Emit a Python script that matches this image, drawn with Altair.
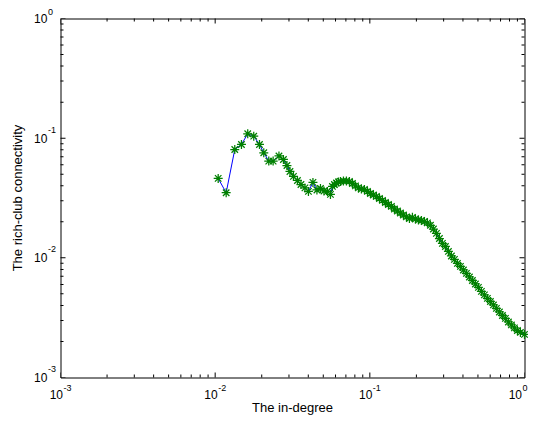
import altair as alt
import pandas as pd

# ---- data ----
in_degree = [0.01046, 0.01178, 0.01339, 0.01479, 0.01624, 0.01776, 0.01934, 0.02062, 0.02221, 0.02370,
             0.02585, 0.02763, 0.02911, 0.03045, 0.03207, 0.03404, 0.03587, 0.03806, 0.04009, 0.04287,
             0.04550, 0.04795, 0.05050, 0.05320, 0.05563,
             0.05731, 0.05905, 0.06083, 0.06266, 0.06457, 0.06750, 0.07058, 0.07380, 0.07717, 0.08068,
             0.08437, 0.08822, 0.09227, 0.09649, 0.1009, 0.1055, 0.1103, 0.1154, 0.1207, 0.1261,
             0.1319, 0.1379, 0.1442, 0.1508, 0.1577, 0.1649, 0.1724, 0.1803, 0.1885, 0.1971,
             0.2062, 0.2156, 0.2254, 0.2357, 0.2465, 0.2577, 0.2695, 0.2818, 0.2946,
             0.3081, 0.3222, 0.3369, 0.3523, 0.3684, 0.3852, 0.4027, 0.4211, 0.4403, 0.4604,
             0.4815, 0.5035, 0.5265, 0.5505, 0.5756, 0.6019, 0.6295, 0.6582, 0.6883, 0.7200,
             0.7526, 0.7870, 0.8228, 0.8604, 0.8997, 0.9408, 1.0]
rich_club = [0.0461, 0.0350, 0.0804, 0.0886, 0.1088, 0.1039, 0.0886, 0.0755, 0.0643, 0.0643,
             0.0710, 0.0664, 0.0591, 0.0527, 0.0479, 0.0443, 0.0410, 0.0384, 0.0359, 0.0427,
             0.0369, 0.0380, 0.0362, 0.0359, 0.0339,
             0.0395, 0.0410, 0.0422, 0.0431, 0.0435, 0.0439, 0.0439, 0.0435, 0.0418, 0.0399,
             0.0384, 0.0376, 0.0373, 0.0359, 0.0345, 0.0335, 0.0326, 0.0313, 0.0302, 0.0290,
             0.0279, 0.0269, 0.0256, 0.0246, 0.0237, 0.0228, 0.0220, 0.0213, 0.0218, 0.0211,
             0.0207, 0.0205, 0.0201, 0.0196, 0.0187, 0.0174, 0.0160, 0.0145, 0.0132,
             0.01245, 0.01131, 0.01037, 0.00970, 0.00898, 0.00848, 0.00792, 0.00741, 0.00692, 0.00647,
             0.00605, 0.00566, 0.00524, 0.00490, 0.00458, 0.00432, 0.00404, 0.00378, 0.00353, 0.00330,
             0.00312, 0.00291, 0.00275, 0.00260, 0.00247, 0.00238, 0.00229]

major_ticks = [0.001, 0.01, 0.1, 1.0]
tick_base = ["10", "10", "10", "10"]
tick_exp = ["-3", "-2", "-1", "0"]
minor_ticks = [m * 10.0 ** d for d in (-3, -2, -1) for m in range(2, 10)]

x_title = "The in-degree"
y_title = "The rich-club connectivity"

W, H = 464, 359
FONT = "Liberation Sans"

df = pd.DataFrame({"x": in_degree, "y": rich_club})
ticks = pd.DataFrame({"v": major_ticks + minor_ticks,
                      "major": [True] * len(major_ticks) + [False] * len(minor_ticks)})
labels = pd.DataFrame({"v": major_ticks, "b": tick_base, "e": tick_exp})
titles = pd.DataFrame({"xt": [x_title], "yt": [y_title]})

xs = alt.Scale(type="log", domain=[0.001, 1])
ys = alt.Scale(type="log", domain=[0.001, 1])

line = alt.Chart(df).mark_line(color="#0000ff", strokeWidth=1).encode(
    x=alt.X("x:Q", scale=xs, axis=None),
    y=alt.Y("y:Q", scale=ys, axis=None),
)

AST = "M0,-1L0,1M-1,0L1,0M-0.72,-0.72L0.72,0.72M-0.72,0.72L0.72,-0.72"
points = alt.Chart(df).mark_point(shape=AST, size=81, filled=False, color="#008000",
                                  strokeWidth=1.25, opacity=1).encode(
    x=alt.X("x:Q", scale=xs, axis=None), y=alt.Y("y:Q", scale=ys, axis=None))

tick_size = alt.condition("datum.major", alt.value(10), alt.value(6))


def xtick(ypos):
    return alt.Chart(ticks).mark_tick(orient="vertical", color="black", thickness=1,
                                      opacity=1, clip=True).encode(
        x=alt.X("v:Q", scale=xs, axis=None), y=alt.value(ypos), size=tick_size)


def ytick(xpos):
    return alt.Chart(ticks).mark_tick(orient="horizontal", color="black", thickness=1,
                                      opacity=1, clip=True).encode(
        y=alt.Y("v:Q", scale=ys, axis=None), x=alt.value(xpos), size=tick_size)


def xlabels(flt, shift):
    base = alt.Chart(labels).transform_filter(flt)
    b = base.mark_text(align="right", baseline="alphabetic", dx=2.5 + shift,
                       font=FONT, fontSize=12, color="black").encode(
        x=alt.X("v:Q", scale=xs, axis=None), y=alt.value(H + 21.5), text="b:N")
    e = base.mark_text(align="left", baseline="alphabetic", dx=3 + shift,
                       font=FONT, fontSize=9, color="black").encode(
        x=alt.X("v:Q", scale=xs, axis=None), y=alt.value(H + 13), text="e:N")
    return [b, e]


def ylabels(flt, exp_dy):
    base = alt.Chart(labels).transform_filter(flt)
    b = base.mark_text(align="left", baseline="alphabetic", dy=4.5,
                       font=FONT, fontSize=12, color="black").encode(
        y=alt.Y("v:Q", scale=ys, axis=None), x=alt.value(-26.5), text="b:N")
    e = base.mark_text(align="left", baseline="alphabetic", dy=exp_dy,
                       font=FONT, fontSize=9, color="black").encode(
        y=alt.Y("v:Q", scale=ys, axis=None), x=alt.value(-12.5), text="e:N")
    return [b, e]


xt_layer = alt.Chart(titles).mark_text(align="center", baseline="alphabetic",
                                       font=FONT, fontSize=13, color="black").encode(
    x=alt.value(W / 2), y=alt.value(H + 34.5), text="xt:N")
yt_layer = alt.Chart(titles).mark_text(align="center", baseline="alphabetic", angle=270,
                                       font=FONT, fontSize=13, color="black").encode(
    x=alt.value(-39), y=alt.value(H / 2), text="yt:N")

chart = alt.layer(
    line, points, xtick(H), xtick(0), ytick(0), ytick(W),
    *xlabels("datum.v < 0.5", 0), *xlabels("datum.v > 0.5", -5),
    *ylabels("datum.v < 0.5", -5.5), *ylabels("datum.v > 0.5", -3.8),
    xt_layer, yt_layer
).properties(
    width=W, height=H,
    autosize=alt.AutoSizeParams(type="none"),
    padding={"left": 52.5, "top": 10.5, "right": 3.5, "bottom": 37.5},
    background="white",
).configure_view(stroke="black", strokeWidth=1)

chart.save("out.html", embed_options={"renderer": "svg", "actions": False})
